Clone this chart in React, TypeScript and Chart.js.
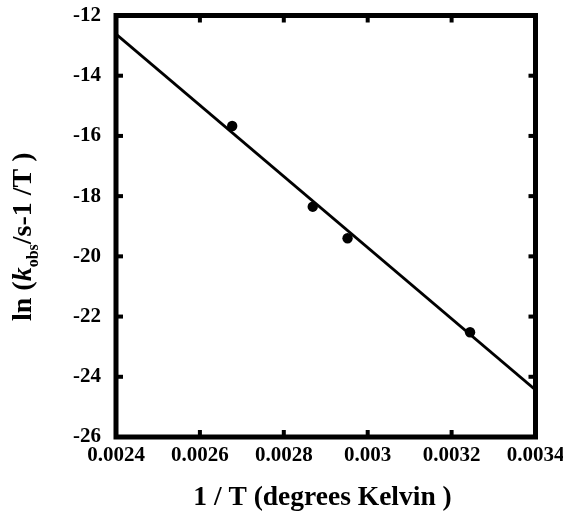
import React, { useEffect, useRef } from 'react';
import { Chart, registerables } from 'chart.js';

Chart.register(...registerables);

// Data
const invT: number[] = [0.002677, 0.002869, 0.002952, 0.003244];
const lnK: number[] = [-15.67, -18.35, -19.4, -22.52];
const fitX: number[] = [0.0024, 0.0034];
const fitY: number[] = [-12.62, -24.44];
const xTickValues: number[] = [0.0024, 0.0026, 0.0028, 0.003, 0.0032, 0.0034];
const yTickValues: number[] = [-26, -24, -22, -20, -18, -16, -14, -12];
const xTitle = '1 / T (degrees Kelvin )';
const yTitleParts = [
  { text: 'ln (', style: 'normal', sub: false },
  { text: 'k', style: 'italic', sub: false },
  { text: 'obs', style: 'normal', sub: true },
  { text: '/s-1 /T )', style: 'normal', sub: false },
];

const FONT = '"Liberation Serif", "Times New Roman", serif';

const framePlugin = {
  id: 'frame',
  afterDatasetsDraw(chart: any) {
    const { ctx, chartArea } = chart;
    const { left, right, top, bottom } = chartArea;
    const xs = chart.scales.x;
    const ys = chart.scales.y;
    ctx.save();
    ctx.strokeStyle = '#000';
    ctx.fillStyle = '#000';
    ctx.lineWidth = 5;
    ctx.strokeRect(left, top, right - left, bottom - top);
    const tl = 7;
    const tw = 4;
    xTickValues.forEach((v) => {
      const px = xs.getPixelForValue(v);
      ctx.fillRect(px - tw / 2, bottom - tl, tw, tl);
      ctx.fillRect(px - tw / 2, top, tw, tl);
    });
    yTickValues.forEach((v) => {
      const py = ys.getPixelForValue(v);
      ctx.fillRect(left, py - tw / 2, tl, tw);
      ctx.fillRect(right - tl, py - tw / 2, tl, tw);
    });
    ctx.restore();
  },
  afterDraw(chart: any) {
    const { ctx } = chart;
    ctx.save();
    ctx.fillStyle = '#000';
    // X title
    ctx.font = `bold 27.5px ${FONT}`;
    ctx.textAlign = 'center';
    ctx.textBaseline = 'alphabetic';
    ctx.fillText(xTitle, 322.5, 505);
    // Y title (rotated, rich text)
    ctx.translate(31, 321);
    ctx.rotate(-Math.PI / 2);
    ctx.textAlign = 'left';
    let x = 0;
    yTitleParts.forEach((p) => {
      const size = p.sub ? 16 : 28;
      ctx.font = `${p.style === 'italic' ? 'italic ' : ''}bold ${size}px ${FONT}`;
      ctx.fillText(p.text, x, p.sub ? 7 : 0);
      x += ctx.measureText(p.text).width;
    });
    ctx.restore();
  },
};

export default function App() {
  const canvasRef = useRef<HTMLCanvasElement | null>(null);

  useEffect(() => {
    const canvas = canvasRef.current;
    if (!canvas) return;
    const chart = new Chart(canvas, {
      type: 'scatter',
      data: {
        datasets: [
          {
            label: 'fit',
            type: 'line',
            data: fitX.map((x, i) => ({ x, y: fitY[i] })),
            borderColor: '#000',
            borderWidth: 2.8,
            pointRadius: 0,
            fill: false,
            showLine: true,
          } as any,
          {
            label: 'data',
            data: invT.map((x, i) => ({ x, y: lnK[i] })),
            backgroundColor: '#000',
            borderColor: '#000',
            pointRadius: 5.2,
            pointBorderWidth: 0,
          },
        ],
      },
      options: {
        responsive: false,
        animation: false,
        events: [],
        layout: { padding: { left: 0, top: 15.5, right: 27.5, bottom: 0 } },
        plugins: {
          legend: { display: false },
          tooltip: { enabled: false },
          title: { display: false },
        },
        scales: {
          x: {
            type: 'linear',
            min: 0.0024,
            max: 0.0034,
            grid: { display: false, drawTicks: false },
            border: { display: false },
            afterBuildTicks: (s: any) => {
              s.ticks = xTickValues.map((v) => ({ value: v }));
            },
            afterFit: (s: any) => {
              s.height = 76;
              s.paddingLeft = 0;
              s.paddingRight = 0;
            },
            ticks: {
              padding: 6,
              maxRotation: 0,
              autoSkip: false,
              color: '#000',
              font: { family: FONT, size: 21, weight: 'bold' },
              callback: (v: any) => String(parseFloat(Number(v).toFixed(4))),
            },
          },
          y: {
            type: 'linear',
            min: -26,
            max: -12,
            grid: { display: false, drawTicks: false },
            border: { display: false },
            afterBuildTicks: (s: any) => {
              s.ticks = yTickValues.map((v) => ({ value: v }));
            },
            afterFit: (s: any) => {
              s.width = 116;
              s.paddingTop = 0;
              s.paddingBottom = 0;
            },
            ticks: {
              padding: 15,
              autoSkip: false,
              color: '#000',
              font: { family: FONT, size: 21, weight: 'bold' },
              callback: (v: any) => String(v),
            },
          },
        },
      },
      plugins: [framePlugin],
    });
    return () => chart.destroy();
  }, []);

  return (
    <div style={{ position: 'absolute', left: 0, top: 0, width: 563, height: 513, background: '#fff' }}>
      <canvas ref={canvasRef} width={563} height={513} style={{ display: 'block' }} />
    </div>
  );
}
